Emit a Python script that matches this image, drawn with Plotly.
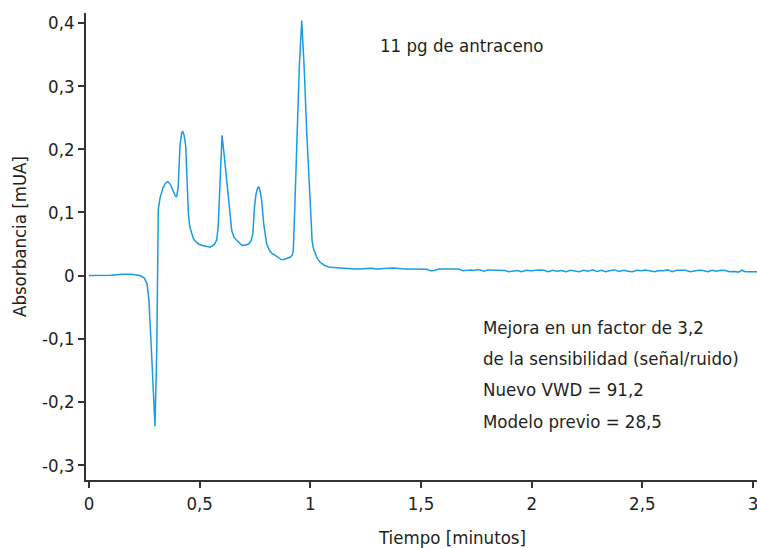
import plotly.graph_objects as go

# Retention time (min) and absorbance (mUA)
time_min = [
    0.000, 0.050, 0.100, 0.150, 0.190, 0.230, 0.250, 0.262, 0.271, 0.285,
    0.298, 0.306, 0.310, 0.313, 0.321, 0.334, 0.345, 0.356, 0.368, 0.381,
    0.390, 0.396, 0.403, 0.411, 0.418, 0.423, 0.430, 0.437, 0.443, 0.449,
    0.455, 0.461, 0.470, 0.479, 0.495, 0.509, 0.530, 0.547, 0.565, 0.577,
    0.584, 0.589, 0.596, 0.601, 0.611, 0.622, 0.635, 0.645, 0.656, 0.667,
    0.680, 0.690, 0.705, 0.720, 0.732, 0.740, 0.748, 0.755, 0.762, 0.768,
    0.774, 0.780, 0.790, 0.803, 0.815, 0.826, 0.837, 0.848, 0.865, 0.878,
    0.895, 0.908, 0.918, 0.923, 0.930, 0.939, 0.950, 0.961, 0.972, 0.984,
    0.998, 1.008, 1.014, 1.030, 1.044, 1.065, 1.089, 1.120, 1.164, 1.200,
    1.225, 1.250, 1.275, 1.300, 1.325, 1.350, 1.375, 1.400, 1.425, 1.450,
    1.475, 1.500, 1.525, 1.545, 1.560, 1.580, 1.610, 1.640, 1.670, 1.690,
    1.710, 1.725, 1.740, 1.755, 1.770, 1.785, 1.800, 1.820, 1.840, 1.860,
    1.880, 1.895, 1.915, 1.935, 1.955, 1.975, 1.995, 2.015, 2.035, 2.055,
    2.075, 2.095, 2.115, 2.135, 2.155, 2.175, 2.195, 2.215, 2.235, 2.255,
    2.275, 2.295, 2.315, 2.335, 2.355, 2.375, 2.395, 2.415, 2.435, 2.455,
    2.475, 2.495, 2.515, 2.535, 2.555, 2.575, 2.595, 2.615, 2.635, 2.655,
    2.675, 2.695, 2.715, 2.735, 2.755, 2.775, 2.795, 2.815, 2.835, 2.855,
    2.875, 2.895, 2.915, 2.935, 2.950, 2.965, 2.985, 3.000, 3.018,
]
absorbance = [
    0.000, 0.000, 0.0005, 0.002, 0.002, 0.000, -0.004, -0.013, -0.040, -0.140,
    -0.239, -0.120, -0.030, 0.105, 0.123, 0.139, 0.146, 0.149, 0.144, 0.132,
    0.126, 0.125, 0.140, 0.205, 0.225, 0.229, 0.222, 0.205, 0.150, 0.098,
    0.078, 0.071, 0.060, 0.055, 0.050, 0.048, 0.046, 0.045, 0.049, 0.056,
    0.080, 0.120, 0.190, 0.222, 0.190, 0.150, 0.100, 0.071, 0.060, 0.056,
    0.050, 0.048, 0.048, 0.050, 0.055, 0.066, 0.110, 0.130, 0.139, 0.140,
    0.132, 0.119, 0.080, 0.050, 0.040, 0.035, 0.033, 0.030, 0.026, 0.025,
    0.027, 0.029, 0.032, 0.040, 0.110, 0.225, 0.330, 0.404, 0.330, 0.225,
    0.110, 0.055, 0.043, 0.028, 0.021, 0.016, 0.013, 0.012, 0.011, 0.0105,
    0.0105, 0.011, 0.0115, 0.0105, 0.0105, 0.0115, 0.012, 0.011, 0.0105, 0.0105,
    0.0105, 0.0105, 0.010, 0.0075, 0.008, 0.0105, 0.0105, 0.0105, 0.0105, 0.0075,
    0.0085, 0.009, 0.008, 0.0095, 0.0085, 0.007, 0.009, 0.0085, 0.009, 0.0085,
    0.008, 0.006, 0.007, 0.008, 0.006, 0.0085, 0.0075, 0.0085, 0.009, 0.0085,
    0.006, 0.0085, 0.007, 0.008, 0.006, 0.0085, 0.0075, 0.006, 0.0085, 0.007,
    0.009, 0.0065, 0.0085, 0.006, 0.008, 0.009, 0.0065, 0.0085, 0.007, 0.006,
    0.0085, 0.0075, 0.009, 0.008, 0.006, 0.008, 0.0075, 0.009, 0.006, 0.0085,
    0.008, 0.0085, 0.006, 0.0075, 0.0085, 0.008, 0.006, 0.0085, 0.007, 0.0085,
    0.008, 0.006, 0.0065, 0.0055, 0.0085, 0.006, 0.006, 0.006, 0.006,
]

x_tickvals = [0, 0.5, 1, 1.5, 2, 2.5, 3]
x_ticktext = ["0", "0,5", "1", "1,5", "2", "2,5", "3"]
y_tickvals = [-0.3, -0.2, -0.1, 0, 0.1, 0.2, 0.3, 0.4]
y_ticktext = ["-0,3", "-0,2", "-0,1", "0", "0,1", "0,2", "0,3", "0,4"]

title_label = "11 pg de antraceno"
info_lines = [
    "Mejora en un factor de 3,2",
    "de la sensibilidad (señal/ruido)",
    "Nuevo VWD = 91,2",
    "Modelo previo = 28,5",
]
x_title = "Tiempo [minutos]"
y_title = "Absorbancia [mUA]"

FONT = "Liberation Sans Narrow, DejaVu Sans Condensed, Arial Narrow, sans-serif"
TXT = "#231f20"
AX = "#333333"
FS = 18.5

fig = go.Figure()
fig.add_trace(go.Scatter(
    x=time_min, y=absorbance, mode="lines",
    line=dict(color="#1a9de0", width=1.5),
    hoverinfo="skip", showlegend=False,
))

fig.update_layout(
    width=757, height=548,
    margin=dict(l=86, r=0, t=13, b=68),
    paper_bgcolor="white", plot_bgcolor="white",
    font=dict(family=FONT, size=FS, color=TXT),
    xaxis=dict(
        range=[-0.0136, 3.018], showgrid=False, zeroline=False,
        showline=True, linecolor=AX, linewidth=1.5,
        ticks="outside", ticklen=6, tickwidth=1.5, tickcolor=AX,
        tickvals=x_tickvals, ticktext=x_ticktext,
        ticklabeloverflow="allow",
        tickfont=dict(family=FONT, size=FS, color=TXT),
    ),
    yaxis=dict(
        range=[-0.3237, 0.4158], showgrid=False, zeroline=False,
        showline=True, linecolor=AX, linewidth=1.5,
        ticks="outside", ticklen=6, tickwidth=1.5, tickcolor=AX,
        tickvals=y_tickvals, ticktext=y_ticktext,
        ticklabeloverflow="allow",
        tickfont=dict(family=FONT, size=FS, color=TXT),
    ),
)

annotations = [
    dict(text=title_label, x=1.306, y=0.365, xref="x", yref="y",
         xanchor="left", yanchor="middle", showarrow=False,
         font=dict(family=FONT, size=FS, color=TXT)),
    dict(text=x_title, x=(452 - 86) / 671, y=-(537 - 480) / 467,
         xref="paper", yref="paper", xanchor="center", yanchor="middle",
         showarrow=False, font=dict(family=FONT, size=FS, color=TXT)),
    dict(text=y_title, x=-(86 - 20) / 671, y=(480 - 237) / 467,
         xref="paper", yref="paper", xanchor="center", yanchor="middle",
         textangle=-90, showarrow=False,
         font=dict(family=FONT, size=FS, color=TXT)),
]
info_y = [-0.0825, -0.132, -0.181, -0.2315]
for line, yv in zip(info_lines, info_y):
    annotations.append(dict(text=line, x=1.771, y=yv, xref="x", yref="y",
                            xanchor="left", yanchor="middle", showarrow=False,
                            font=dict(family=FONT, size=FS, color=TXT)))
fig.update_layout(annotations=annotations)

fig.write_html("out.html")
